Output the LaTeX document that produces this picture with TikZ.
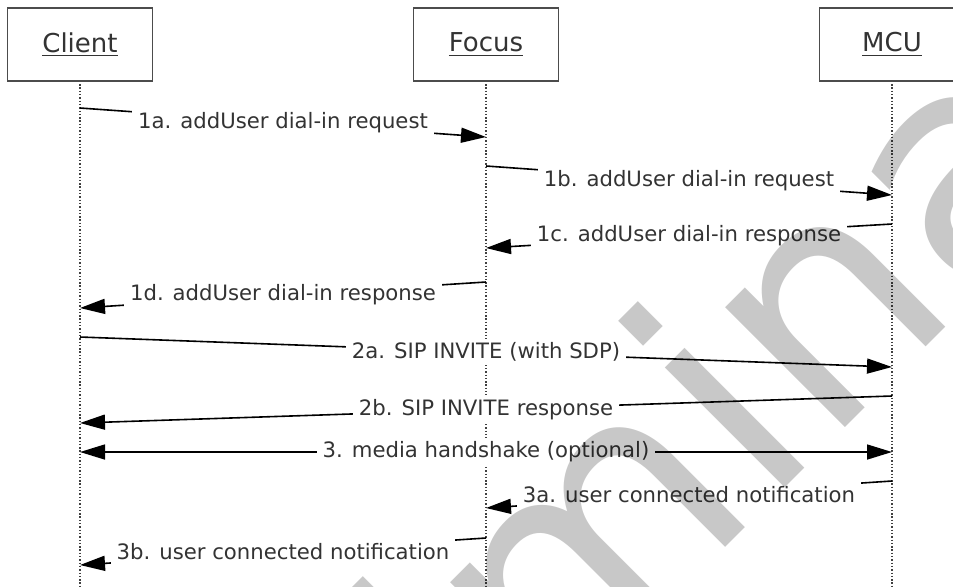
\documentclass[tikz,border=0pt]{standalone}
\usepackage{fontspec}
\setmainfont{DejaVu Sans}
\usepackage{tikz}
\usetikzlibrary{arrows.meta}

\begin{document}
\begin{tikzpicture}[x=0.5pt, y=-0.5pt,
        actor/.style={draw=black!70, line width=0.9pt, fill=white, minimum width=72.5pt, minimum height=36.5pt, text=black!80, font=\fontsize{13}{15}\selectfont},
        life/.style={black!75, line width=0.8pt, dash pattern=on 0.7pt off 0.95pt},
        msg/.style={-{Triangle[length=12.5pt, width=7.5pt]}, line width=0.8pt},
        both/.style={{Triangle[length=12.5pt, width=7.5pt]}-{Triangle[length=12.5pt, width=7.5pt]}, line width=0.8pt},
        lbl/.style={fill=white, text=black!80, inner xsep=3pt, inner ysep=2pt, font=\fontsize{10.6}{12}\selectfont},
        wmark/.style={text={rgb,255:red,200;green,200;blue,200}, inner sep=0pt, font=\fontsize{155}{155}\selectfont}
    ]
        \useasboundingbox (0,0) rectangle (953,586);

        % Define the nodes
        \coordinate (client) at (80,44.5);
        \coordinate (focus) at (486,44.5);
        \coordinate (mcu) at (892,44.5);

        \coordinate (clientend) at (80,590);
        \coordinate (focusend) at (486,590);
        \coordinate (mcuend) at (892,590);

        % Define the lifelines
        \draw[life] (client) -- (clientend);
        \draw[life] (focus) -- (focusend);
        \draw[life] (mcu) -- (mcuend);

        % Define the message ends
        \coordinate (c1a) at (80,108);   \coordinate (f1a) at (486,137);
        \coordinate (f1b) at (486,166);  \coordinate (m1b) at (892,195);
        \coordinate (m1c) at (892,224);  \coordinate (f1c) at (486,248);
        \coordinate (f1d) at (486,282);  \coordinate (c1d) at (80,308);
        \coordinate (c2a) at (80,337);   \coordinate (m2a) at (892,367);
        \coordinate (m2b) at (892,396);  \coordinate (c2b) at (80,423);
        \coordinate (c3) at (80,452);    \coordinate (m3) at (892,452);
        \coordinate (m3a) at (892,481);  \coordinate (f3a) at (486,508);
        \coordinate (f3b) at (486,538);  \coordinate (c3b) at (80,565);

        % Define the messages
        \draw[msg] (c1a) -- node[lbl] (l1a) {1a. addUser dial-in request} (f1a);
        \draw[msg] (f1b) -- node[lbl] (l1b) {1b. addUser dial-in request} (m1b);
        \draw[msg] (m1c) -- node[lbl] (l1c) {1c. addUser dial-in response} (f1c);
        \draw[msg] (f1d) -- node[lbl] (l1d) {1d. addUser dial-in response} (c1d);
        \draw[msg] (c2a) -- node[lbl] (l2a) {2a. SIP INVITE (with SDP)} (m2a);
        \draw[msg] (m2b) -- node[lbl] (l2b) {2b. SIP INVITE response} (c2b);
        \draw[both] (c3) -- node[lbl] (l3) {3. media handshake (optional)} (m3);
        \draw[msg] (m3a) -- node[lbl] (l3a) {3a. user connected notification} (f3a);
        \draw[msg] (f3b) -- node[lbl] (l3b) {3b. user connected notification} (c3b);

        % Watermark
        \begin{scope}[blend mode=multiply]
            \node[wmark, rotate=45, anchor=base west] (prelim) at (80,1193) {Preliminary};
        \end{scope}

        % Define the boxes
        \node[actor] (clientbox) at (client) {\underline{Client}};
        \node[actor] (focusbox) at (focus) {\underline{Focus}};
        \node[actor] (mcubox) at (mcu) {\underline{MCU}};
    \end{tikzpicture}
\end{document}
